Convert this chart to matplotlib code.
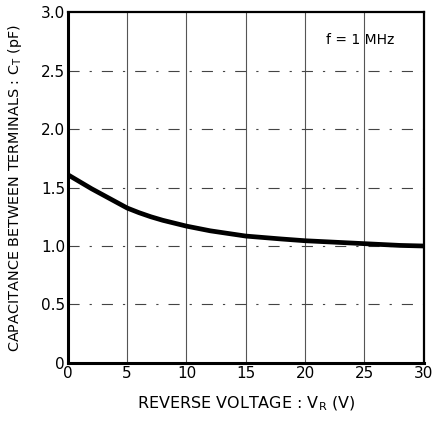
import matplotlib.pyplot as plt
import numpy as np

# curve
vr = [0, 0.5, 1, 1.5, 2, 3, 4, 5, 6, 7, 8, 10, 12, 15, 18, 20, 22, 25, 28, 30]
ct = [1.61, 1.58, 1.55, 1.52, 1.49, 1.435, 1.38, 1.325, 1.285, 1.25, 1.22, 1.17, 1.13, 1.085, 1.06, 1.045, 1.035, 1.02, 1.005, 1.0]

xticks = [0, 5, 10, 15, 20, 25, 30]
yticks = [0, 0.5, 1.0, 1.5, 2.0, 2.5, 3.0]
ylabels = ['0', '0.5', '1.0', '1.5', '2.0', '2.5', '3.0']

fig = plt.figure(figsize=(4.32, 4.21), dpi=100)
ax = fig.add_axes([0.157, 0.138, 0.824, 0.833])

ax.set_xlim(0, 30)
ax.set_ylim(0, 3.0)

# grid: solid verticals, dash-dot horizontals
for x in xticks[1:-1]:
    ax.axvline(x, color='#555555', lw=0.8, zorder=1)
for y in yticks[1:-1]:
    ax.axhline(y, color='#444444', lw=0.8, ls=(0, (10, 9, 2, 9)), zorder=1)

ax.plot(vr, ct, color='black', lw=3.4, solid_capstyle='butt', solid_joinstyle='round', zorder=3)

ax.set_xticks(xticks)
ax.set_yticks(yticks)
ax.set_yticklabels(ylabels)
ax.tick_params(length=0, labelsize=11, pad=2)

for s in ['left', 'bottom']:
    ax.spines[s].set_linewidth(2.2)
for s in ['top', 'right']:
    ax.spines[s].set_linewidth(1.6)

ax.text(27.5, 2.76, 'f = 1 MHz', ha='right', va='center', fontsize=10)

ax.set_xlabel('REVERSE VOLTAGE : V$_\\mathregular{R}$ (V)', fontsize=11.5, labelpad=10)
ax.set_ylabel('CAPACITANCE BETWEEN TERMINALS : C$_\\mathregular{T}$ (pF)', fontsize=10.4, labelpad=12)

plt.savefig('out.png', dpi=100)
